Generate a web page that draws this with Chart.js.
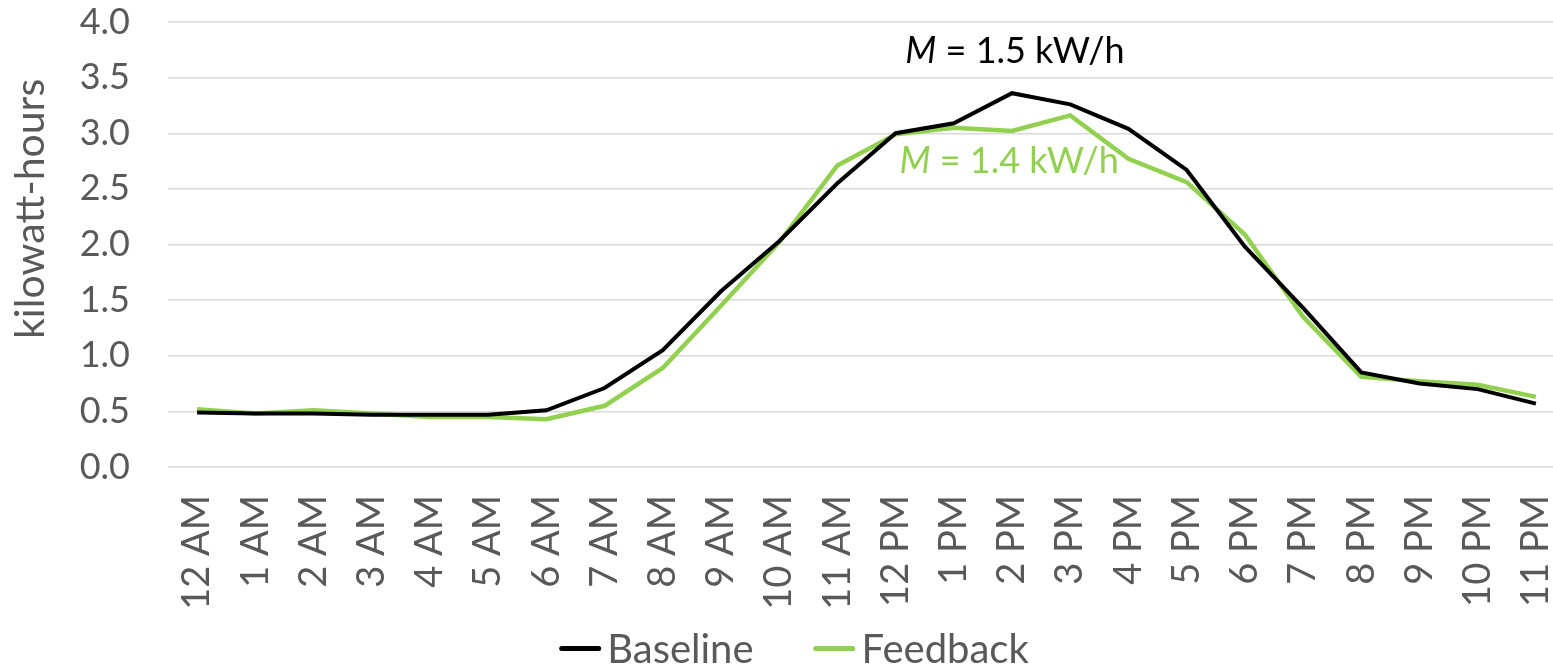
<!DOCTYPE html>
<html>
<head>
<meta charset="utf-8">
<script src="https://cdn.jsdelivr.net/npm/chart.js@4/dist/chart.umd.min.js"></script>
<style>
  html, body { margin: 0; padding: 0; background: #fff; overflow: hidden; }
  #wrap { width: 1565px; height: 668px; position: relative; }
  #legend {
    position: absolute; left: 794px; top: 626px; transform: translateX(-50%);
    display: flex; align-items: center; white-space: nowrap;
    font-family: Lato, sans-serif; font-size: 40px; line-height: 44px; color: #595959;
  }
  #legend .item { display: flex; align-items: center; margin: 0 30px; }
  #legend .swatch { width: 42px; height: 5px; border-radius: 3px; margin-right: 6px; }
</style>
</head>
<body>
<div id="wrap"><canvas id="kwh-chart" width="1565" height="668"></canvas><div id="legend"></div></div>
<script>
const hours = ['12 AM', '1 AM', '2 AM', '3 AM', '4 AM', '5 AM', '6 AM', '7 AM', '8 AM', '9 AM', '10 AM', '11 AM',
  '12 PM', '1 PM', '2 PM', '3 PM', '4 PM', '5 PM', '6 PM', '7 PM', '8 PM', '9 PM', '10 PM', '11 PM'];

const baseline = [0.49, 0.48, 0.48, 0.47, 0.47, 0.47, 0.51, 0.71, 1.05, 1.58, 2.03, 2.55,
  3.00, 3.09, 3.36, 3.26, 3.04, 2.67, 1.98, 1.43, 0.85, 0.75, 0.70, 0.57];

const feedback = [0.52, 0.48, 0.51, 0.48, 0.45, 0.45, 0.43, 0.55, 0.89, 1.45, 2.02, 2.71,
  2.99, 3.05, 3.02, 3.16, 2.77, 2.56, 2.09, 1.35, 0.81, 0.77, 0.74, 0.63];

const yTicks = [0, 0.5, 1, 1.5, 2, 2.5, 3, 3.5, 4];

const GREEN = '#92D050';
const GREY = '#595959';
const FONT = 'Lato';

// M = ... kW/h labels, anchored to a category and a value
const meanLabels = [
  { value: '1.5', color: '#000000', at: 14.05, y: 3.63 },
  { value: '1.4', color: GREEN, at: 13.95, y: 2.64 }
];

const meanLabelPlugin = {
  id: 'meanLabels',
  afterDatasetsDraw(chart) {
    const { ctx, scales } = chart;
    ctx.save();
    ctx.textBaseline = 'alphabetic';
    meanLabels.forEach(lbl => {
      const cx = scales.x.getPixelForValue(lbl.at);
      const cy = scales.y.getPixelForValue(lbl.y);
      const rest = ' = ' + lbl.value + ' kW/h';
      ctx.font = 'italic 36px ' + FONT;
      const wM = ctx.measureText('M').width;
      ctx.font = '36px ' + FONT;
      const wR = ctx.measureText(rest).width;
      const x0 = cx - (wM + wR) / 2;
      ctx.fillStyle = lbl.color;
      ctx.font = 'italic 36px ' + FONT;
      ctx.fillText('M', x0, cy);
      ctx.font = '36px ' + FONT;
      ctx.fillText(rest, x0 + wM, cy);
    });
    ctx.restore();
  }
};

// y axis title, sits a bit above the middle of the plot like in the original
const yTitlePlugin = {
  id: 'yTitle',
  afterDraw(chart) {
    const { ctx, scales } = chart;
    ctx.save();
    ctx.translate(31, scales.y.getPixelForValue(2.32));
    ctx.rotate(-Math.PI / 2);
    ctx.font = '41px ' + FONT;
    ctx.fillStyle = GREY;
    ctx.textAlign = 'center';
    ctx.textBaseline = 'middle';
    ctx.fillText('kilowatt-hours', 0, 0);
    ctx.restore();
  }
};

// legend drawn as html under the chart
const htmlLegend = {
  id: 'htmlLegend',
  afterUpdate(chart) {
    const box = document.getElementById('legend');
    box.innerHTML = '';
    chart.data.datasets.forEach(ds => {
      const item = document.createElement('div');
      item.className = 'item';
      const sw = document.createElement('span');
      sw.className = 'swatch';
      sw.style.background = ds.borderColor;
      const txt = document.createElement('span');
      txt.textContent = ds.label;
      item.appendChild(sw);
      item.appendChild(txt);
      box.appendChild(item);
    });
  }
};

const ctx = document.getElementById('kwh-chart').getContext('2d');
new Chart(ctx, {
  type: 'line',
  data: {
    labels: hours,
    datasets: [
      {
        label: 'Baseline',
        data: baseline,
        borderColor: '#000000',
        backgroundColor: '#000000',
        borderWidth: 4,
        pointRadius: 0,
        tension: 0
      },
      {
        label: 'Feedback',
        data: feedback,
        borderColor: GREEN,
        backgroundColor: GREEN,
        borderWidth: 4.5,
        pointRadius: 0,
        tension: 0
      }
    ]
  },
  options: {
    responsive: false,
    animation: false,
    layout: { padding: { top: 22, left: 0, right: 0, bottom: 0 } },
    plugins: {
      legend: { display: false },
      tooltip: { enabled: false }
    },
    scales: {
      x: {
        offset: true,
        grid: { display: false },
        border: { display: false },
        ticks: {
          color: GREY,
          font: { family: FONT, size: 38 },
          minRotation: 90,
          maxRotation: 90,
          autoSkip: false,
          padding: 20
        },
        afterFit: axis => {
          axis.height = 201;
          axis.paddingLeft = 0;
          axis.paddingRight = 0;
        }
      },
      y: {
        min: 0,
        max: 4,
        afterBuildTicks: axis => { axis.ticks = yTicks.map(v => ({ value: v })); },
        grid: { color: '#D9D9D9', lineWidth: 1.5, drawTicks: false },
        border: { display: false },
        ticks: {
          color: GREY,
          font: { family: FONT, size: 36 },
          padding: 38,
          callback: v => v.toFixed(1)
        },
        afterFit: axis => {
          axis.width = 168;
          axis.paddingTop = 0;
          axis.paddingBottom = 0;
        }
      }
    }
  },
  plugins: [meanLabelPlugin, yTitlePlugin, htmlLegend]
});
</script>
</body>
</html>
